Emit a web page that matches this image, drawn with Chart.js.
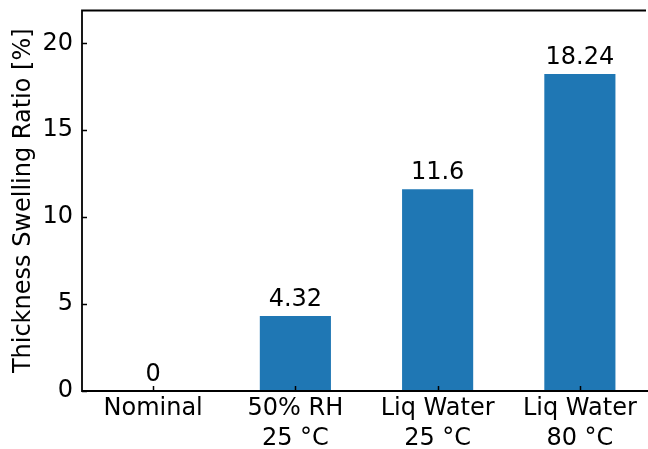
<!DOCTYPE html>
<html>
<head>
<meta charset="utf-8">
<script src="https://cdn.jsdelivr.net/npm/chart.js@4"></script>
<style>
html,body{margin:0;padding:0;background:#fff;overflow:hidden;}
#wrap{width:652px;height:449px;}
</style>
</head>
<body>
<div id="wrap"><canvas id="c" width="652" height="449"></canvas></div>
<script>
const categories = [['Nominal'], ['50% RH', '25 °C'], ['Liq Water', '25 °C'], ['Liq Water', '80 °C']];
const values = [0, 4.32, 11.6, 18.24];
const valueLabels = ['0', '4.32', '11.6', '18.24'];
const yTicks = [0, 5, 10, 15, 20];
const yMax = 21.888;
const yTitle = 'Thickness Swelling Ratio [%]';

const FONT = "'DejaVu Sans', sans-serif";

const decor = {
  id: 'decor',
  afterDatasetsDraw(chart) {
    const ctx = chart.ctx;
    const ca = chart.chartArea;
    const xs = chart.scales.x, ys = chart.scales.y;
    ctx.save();
    ctx.fillStyle = '#000';
    ctx.font = '24px ' + FONT;
    ctx.textAlign = 'center';
    ctx.textBaseline = 'alphabetic';
    const meta = chart.getDatasetMeta(0);
    meta.data.forEach((bar, i) => {
      ctx.fillText(valueLabels[i], bar.x, ys.getPixelForValue(values[i]) - 10);
    });
    ctx.strokeStyle = '#000';
    ctx.lineWidth = 1.5;
    ctx.beginPath();
    yTicks.forEach(v => {
      const y = Math.round(ys.getPixelForValue(v)) + 0.5;
      ctx.moveTo(ca.left, y); ctx.lineTo(ca.left + 5, y);
    });
    categories.forEach((c, i) => {
      const x = Math.round(xs.getPixelForValue(i)) + 0.5;
      ctx.moveTo(x, ca.bottom); ctx.lineTo(x, ca.bottom - 5);
    });
    ctx.stroke();
    ctx.lineWidth = 1.8;
    ctx.beginPath();
    ctx.moveTo(ca.left, ca.top); ctx.lineTo(646, ca.top);
    ctx.moveTo(ca.left, ca.top - 0.9); ctx.lineTo(ca.left, ca.bottom + 0.9);
    ctx.moveTo(ca.left - 0.9, ca.bottom); ctx.lineTo(ca.right, ca.bottom);
    ctx.stroke();
    ctx.restore();
  }
};

new Chart(document.getElementById('c'), {
  type: 'bar',
  data: {
    labels: categories,
    datasets: [{
      data: values,
      backgroundColor: '#1f77b4',
      borderWidth: 0,
      barPercentage: 0.5,
      categoryPercentage: 1.0
    }]
  },
  options: {
    responsive: false,
    animation: false,
    events: [],
    layout: { padding: { top: 10.5, right: 1, left: 0, bottom: 0 } },
    plugins: { legend: { display: false }, tooltip: { enabled: false } },
    scales: {
      x: {
        offset: true,
        grid: { display: false, drawTicks: false },
        border: { display: false },
        ticks: {
          color: '#000',
          font: { family: FONT, size: 24, lineHeight: 1.25 },
          padding: 3,
          maxRotation: 0,
          autoSkip: false
        },
        afterFit(s) { s.height = 58; s.paddingLeft = 0; s.paddingRight = 0; }
      },
      y: {
        min: 0,
        max: yMax,
        grid: { display: false, drawTicks: false },
        border: { display: false },
        ticks: {
          stepSize: 5,
          includeBounds: false,
          color: '#000',
          font: { family: FONT, size: 24 },
          padding: 9
        },
        title: {
          display: true,
          text: yTitle,
          color: '#000',
          font: { family: FONT, size: 24 },
          padding: { top: 9, bottom: 0 }
        },
        afterFit(s) { s.width = 82; s.paddingTop = 0; s.paddingBottom = 0; }
      }
    }
  },
  plugins: [decor]
});
</script>
</body>
</html>
